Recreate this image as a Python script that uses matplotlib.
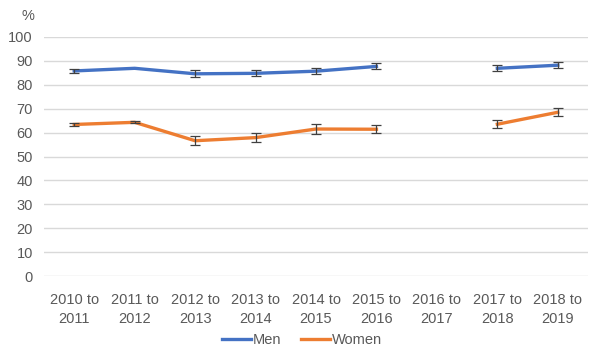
import numpy as np
import matplotlib.pyplot as plt

plt.rcParams['font.family'] = ['Liberation Sans', 'DejaVu Sans']

years = ['2010 to\n2011', '2011 to\n2012', '2012 to\n2013', '2013 to\n2014', '2014 to\n2015',
         '2015 to\n2016', '2016 to\n2017', '2017 to\n2018', '2018 to\n2019']
men = [85.8, 86.9, 84.6, 84.8, 85.7, 87.7, np.nan, 86.9, 88.2]
men_err = [0.7, 0.0, 1.4, 1.2, 1.25, 1.25, np.nan, 1.25, 1.25]
women = [63.4, 64.3, 56.6, 57.9, 61.5, 61.4, np.nan, 63.5, 68.5]
women_err = [0.7, 0.4, 1.9, 1.9, 1.9, 1.7, np.nan, 1.7, 1.7]

txt = '#595959'
fig = plt.figure(figsize=(5.98, 3.5), dpi=100)
ax = fig.add_axes([44/598, 1-276/350, 544/598, (276-37)/350])

x = np.arange(len(years))
ax.plot(x, men, color='#4472C4', lw=2.4, label='Men', zorder=3)
ax.plot(x, women, color='#ED7D31', lw=2.4, label='Women', zorder=3)
m = np.array(men_err) > 0
ax.errorbar(x[m], np.array(men)[m], yerr=np.array(men_err)[m], fmt='none', ecolor='#404040',
            elinewidth=0.9, capsize=3.3, capthick=0.9, zorder=4)
ax.errorbar(x, women, yerr=women_err, fmt='none', ecolor='#404040', elinewidth=0.9,
            capsize=3.3, capthick=0.9, zorder=4)

ax.set_xlim(-0.5, len(years)-0.5)
ax.set_ylim(0, 100)
ax.set_yticks(np.arange(0, 101, 10))
ax.set_xticks(x)
ax.set_xticklabels(years, linespacing=1.45)
ax.grid(axis='y', color='#D9D9D9', lw=1)
ax.set_axisbelow(True)
for s in ax.spines.values():
    s.set_visible(False)
ax.tick_params(axis='both', length=0, colors=txt, labelsize=10.5)
ax.tick_params(axis='x', pad=12)
ax.tick_params(axis='y', pad=8)
fig.text(28/598, 1-16/350, '%', color=txt, fontsize=10.5, ha='center', va='center')

fig.legend(loc='center', bbox_to_anchor=(0.505, 1-340/350), ncol=2, frameon=False,
           fontsize=10.5, labelcolor=txt, handlelength=2.0, columnspacing=1.3, handletextpad=0.15)

fig.savefig('out.png', dpi=100)
